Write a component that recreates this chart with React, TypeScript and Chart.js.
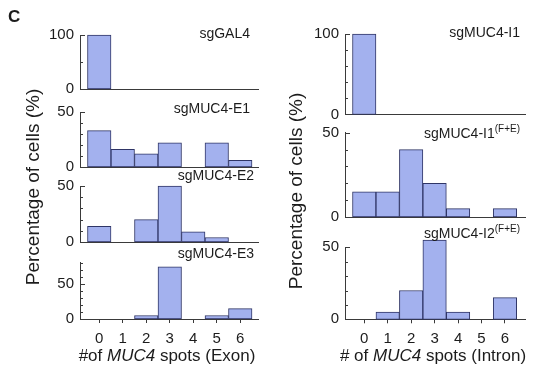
import React, { useEffect, useRef } from "react";
import { Chart, registerables } from "chart.js";

Chart.register(...registerables);

// ---------------- data ----------------
const spots = [0, 1, 2, 3, 4, 5, 6];
const sgGAL4 = [100, 0, 0, 0, 0, 0, 0];
const sgMUC4_E1 = [33, 16, 12, 22, 0, 22, 6];
const sgMUC4_E2 = [14, 0, 20, 50, 9, 4, 0];
const sgMUC4_E3 = [0, 0, 5, 75, 0, 5, 15];
const sgMUC4_I1 = [100, 0, 0, 0, 0, 0, 0];
const sgMUC4_I1FE = [15, 15, 40, 20, 5, 0, 5];
const sgMUC4_I2FE = [0, 5, 20, 55, 5, 0, 15];

const labels100 = [0, 100];
const labels50 = [0, 50];

// ---------------- style ----------------
const W = 539;
const H = 371;
const FONT = "'Liberation Sans', Arial, Helvetica, sans-serif";
const TEXT = "#1c1c1c";
const AXIS = "#3a3a3a";
const FILL = "#a3b1ee";
const EDGE = "#2f3566";

type Seg = { text: string; size: number; weight?: string; style?: string; rise?: number };
type TextItem = { x: number; y: number; align: "left" | "center" | "right"; rotate?: boolean; segs: Seg[] };

function drawRich(ctx: CanvasRenderingContext2D, item: TextItem) {
  const fontOf = (s: Seg) => `${s.style || "normal"} ${s.weight || "normal"} ${s.size}px ${FONT}`;
  const widths = item.segs.map((s) => {
    ctx.font = fontOf(s);
    return ctx.measureText(s.text).width;
  });
  const total = widths.reduce((a, b) => a + b, 0);
  ctx.save();
  ctx.translate(item.x, item.y);
  if (item.rotate) ctx.rotate(-Math.PI / 2);
  let x = item.align === "left" ? 0 : item.align === "center" ? -total / 2 : -total;
  ctx.fillStyle = TEXT;
  ctx.textBaseline = "alphabetic";
  ctx.textAlign = "left";
  item.segs.forEach((s, i) => {
    ctx.font = fontOf(s);
    ctx.fillText(s.text, x, -(s.rise || 0));
    x += widths[i];
  });
  ctx.restore();
}

const decoPlugin = {
  id: "panelDeco",
  afterDraw(chart: any, _args: any, opts: any) {
    const ctx: CanvasRenderingContext2D = chart.ctx;
    const ys = chart.scales.y;
    ctx.save();
    ctx.strokeStyle = AXIS;
    ctx.lineWidth = 1;
    ys.ticks.forEach((t: any) => {
      if (t.value === 0) return;
      const py = Math.round(ys.getPixelForValue(t.value)) + 0.5;
      const len = opts.labels.includes(t.value) ? 5 : 3;
      ctx.beginPath();
      ctx.moveTo(ys.right, py);
      ctx.lineTo(ys.right + len, py);
      ctx.stroke();
    });
    ctx.restore();
    (opts.items || []).forEach((it: TextItem) => drawRich(ctx, it));
  },
};

type Panel = {
  data: number[];
  area: [number, number, number, number];
  xMin: number;
  xMax: number;
  yMax: number;
  yStep: number;
  labels: number[];
  bottom: boolean;
  items: TextItem[];
};

const title = (x: number, y: number, main: string, sup?: string): TextItem => ({
  x,
  y,
  align: "right",
  segs: sup
    ? [
        { text: main, size: 14 },
        { text: sup, size: 10, rise: 6 },
      ]
    : [{ text: main, size: 14 }],
});

const yTitle = (x: number, y: number): TextItem => ({
  x,
  y,
  align: "center",
  rotate: true,
  segs: [{ text: "Percentage of cells (%)", size: 19 }],
});

const LX: [number, number] = [-0.819, 6.755];
const RX: [number, number] = [-0.82, 6.854];

const panels: Panel[] = [
  {
    data: sgGAL4,
    area: [80, 35, 258, 89],
    xMin: LX[0], xMax: LX[1],
    yMax: 100, yStep: 50, labels: labels100, bottom: false,
    items: [
      title(250, 38, "sgGAL4"),
      { x: 8, y: 22, align: "left", segs: [{ text: "C", size: 17, weight: "bold" }] },
      yTitle(39, 187),
    ],
  },
  {
    data: sgMUC4_E1,
    area: [80, 112, 258, 167],
    xMin: LX[0], xMax: LX[1],
    yMax: 50, yStep: 10, labels: labels50, bottom: false,
    items: [title(250, 113, "sgMUC4-E1")],
  },
  {
    data: sgMUC4_E2,
    area: [80, 186, 258, 242],
    xMin: LX[0], xMax: LX[1],
    yMax: 50, yStep: 10, labels: labels50, bottom: false,
    items: [title(254, 180, "sgMUC4-E2")],
  },
  {
    data: sgMUC4_E3,
    area: [80, 262, 258, 319],
    xMin: LX[0], xMax: LX[1],
    yMax: 82, yStep: 10, labels: labels50, bottom: true,
    items: [
      title(254, 258, "sgMUC4-E3"),
      {
        x: 167, y: 361, align: "center",
        segs: [
          { text: "#of ", size: 17 },
          { text: "MUC4", size: 17, style: "italic" },
          { text: " spots (Exon)", size: 17 },
        ],
      },
    ],
  },
  {
    data: sgMUC4_I1,
    area: [345, 34, 525, 114.5],
    xMin: RX[0], xMax: RX[1],
    yMax: 100, yStep: 20, labels: labels100, bottom: false,
    items: [title(520, 37, "sgMUC4-I1"), yTitle(302, 191)],
  },
  {
    data: sgMUC4_I1FE,
    area: [345, 132.7, 525, 217],
    xMin: RX[0], xMax: RX[1],
    yMax: 50, yStep: 10, labels: labels50, bottom: false,
    items: [title(520, 138, "sgMUC4-I1", "(F+E)")],
  },
  {
    data: sgMUC4_I2FE,
    area: [345, 247.3, 525, 319.3],
    xMin: RX[0], xMax: RX[1],
    yMax: 50, yStep: 10, labels: labels50, bottom: true,
    items: [
      title(520, 238, "sgMUC4-I2", "(F+E)"),
      {
        x: 433, y: 361, align: "center",
        segs: [
          { text: "# of ", size: 17 },
          { text: "MUC4", size: 17, style: "italic" },
          { text: " spots (Intron)", size: 17 },
        ],
      },
    ],
  },
];

function PanelChart({ p }: { p: Panel }) {
  const ref = useRef<HTMLCanvasElement>(null);
  useEffect(() => {
    const [L, T, R, B] = p.area;
    const Wy = 44;
    const Hx = p.bottom ? 44 : 0;
    const yTicks: number[] = [];
    for (let v = 0; v <= p.yMax + 1e-9; v += p.yStep) yTicks.push(v);
    const chart = new Chart(ref.current as HTMLCanvasElement, {
      type: "bar",
      data: {
        datasets: [
          {
            data: spots.map((s, i) => ({ x: s, y: p.data[i] })),
            backgroundColor: FILL,
            borderColor: EDGE,
            borderWidth: 1,
            borderSkipped: false,
            barPercentage: 1,
            categoryPercentage: 1,
            clip: false,
          } as any,
        ],
      },
      options: {
        responsive: false,
        animation: false,
        devicePixelRatio: 1,
        events: [],
        layout: { padding: { left: L - Wy, top: T, right: W - R, bottom: H - B - Hx } },
        plugins: {
          legend: { display: false },
          tooltip: { enabled: false },
          title: { display: false },
          panelDeco: { labels: p.labels, items: p.items },
        } as any,
        scales: {
          x: {
            type: "linear",
            min: p.xMin,
            max: p.xMax,
            offset: false,
            afterBuildTicks: (s: any) => {
              s.ticks = spots.map((v) => ({ value: v }));
            },
            afterFit: (s: any) => {
              s.height = Hx;
            },
            ticks: {
              display: p.bottom,
              font: { family: FONT, size: 15 },
              color: TEXT,
              padding: 7,
              maxRotation: 0,
              autoSkip: false,
            },
            grid: {
              display: p.bottom,
              drawOnChartArea: false,
              drawTicks: p.bottom,
              tickLength: 4,
              color: AXIS,
              offset: false,
            },
            border: { display: true, color: AXIS, width: 1 },
          } as any,
          y: {
            type: "linear",
            min: 0,
            max: p.yMax,
            afterBuildTicks: (s: any) => {
              s.ticks = yTicks.map((v) => ({ value: v }));
            },
            afterFit: (s: any) => {
              s.width = Wy;
            },
            ticks: {
              callback: (v: any) => (p.labels.includes(Number(v)) ? String(v) : ""),
              font: { family: FONT, size: 15 },
              color: TEXT,
              padding: 6,
              autoSkip: false,
            },
            grid: { display: false, drawTicks: false },
            border: { display: true, color: AXIS, width: 1 },
          } as any,
        },
      },
      plugins: [decoPlugin as any],
    });
    return () => chart.destroy();
  }, [p]);
  return (
    <canvas
      ref={ref}
      width={W}
      height={H}
      style={{ position: "absolute", left: 0, top: 0, width: W, height: H }}
    />
  );
}

export default function App() {
  return (
    <div
      style={{
        position: "fixed",
        left: 0,
        top: 0,
        width: W,
        height: H,
        background: "#ffffff",
        overflow: "hidden",
      }}
    >
      {panels.map((p, i) => (
        <PanelChart key={i} p={p} />
      ))}
    </div>
  );
}
